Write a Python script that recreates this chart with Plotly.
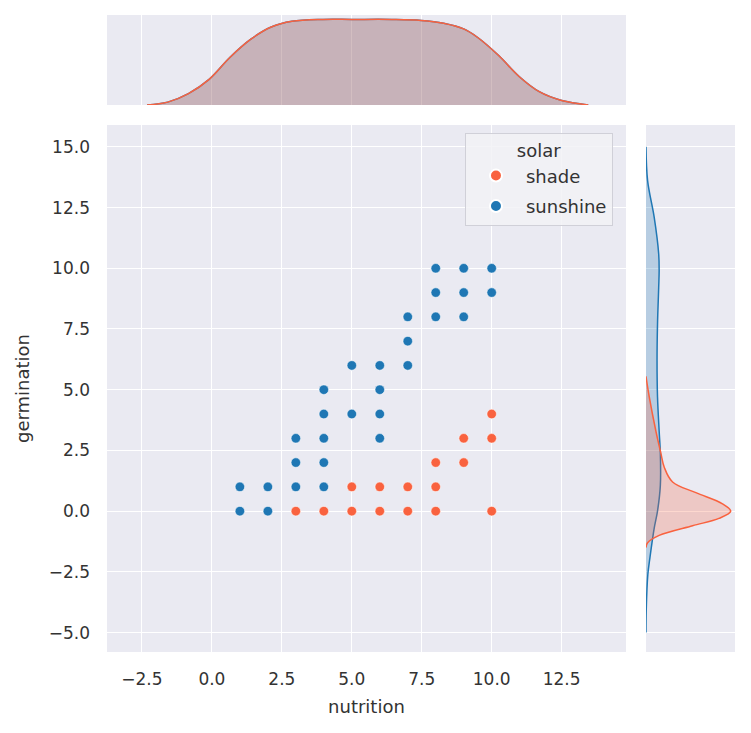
import plotly.graph_objects as go

# scatter data (nutrition, germination) per solar group
shade_x = [3, 4, 5, 6, 7, 8, 10, 5, 6, 7, 8, 8, 9, 9, 10, 10]
shade_y = [0, 0, 0, 0, 0, 0, 0, 1, 1, 1, 1, 2, 2, 3, 3, 4]
sun_x = [1, 2, 1, 2, 3, 4, 3, 4, 3, 4, 6, 4, 5, 6, 4, 6, 5, 6, 7, 7, 7, 8, 9, 8, 9, 10, 8, 9, 10]
sun_y = [0, 0, 1, 1, 1, 1, 2, 2, 3, 3, 3, 4, 4, 4, 5, 5, 6, 6, 6, 7, 8, 8, 8, 9, 9, 9, 10, 10, 10]

# marginal density of nutrition (both groups overlap)
top_x = [-2.32, -1.58, -0.84, -0.1, 0.64, 1.38, 2.12, 2.86, 3.97, 5.0, 6.43,
         7.48, 8.28, 9.0, 9.5, 10.25, 10.98, 11.7, 12.47, 13.2, 13.45]
top_shade = [0, .003, .012, .027, .050, .069, .082, .088, .090, .090, .090,
             .089, .086, .080, .071, .052, .030, .014, .005, .001, 0]
top_sun = top_shade

# marginal density of germination (right panel)
right_sun_y = [15.0, 13.6, 12.1, 10.6, 9.9, 9.2, 7.7, 6.2, 4.7, 3.3, 2.4, 1.05,
               0.0, -0.7, -1.9, -2.6, -4.1, -5.0]
right_sun_d = [0, .007, .035, .054, .056, .054, .049, .047, .049, .056, .061, .061,
               .049, .035, .017, .008, .001, 0]
right_shade_y = [5.55, 4.7, 3.3, 2.4, 1.8, 1.2, 0.76, 0.3, 0.0, -0.3, -0.6, -1.0, -1.3, -1.5]
right_shade_d = [0, .014, .042, .063, .078, .113, .212, .325, .36, .31, .198, .056, .007, 0]

RED = "#f9623f"
BLUE = "#1f77b4"
BG = "#eaeaf2"
FONT = "DejaVu Sans"

# panel domains (paper coords)
MAIN_X = [0.1318, 0.8229]
RIGHT_X = [0.8495, 0.968]
MAIN_Y = [0.1214, 0.8404]
TOP_Y = [0.8677, 0.9905]

fig = go.Figure()

fig.add_trace(go.Scatter(x=shade_x, y=shade_y, mode="markers", name="shade", legendgroup="shade",
                         marker=dict(color=RED, size=9.5, line=dict(color="white", width=0.5)),
                         xaxis="x", yaxis="y"))
fig.add_trace(go.Scatter(x=sun_x, y=sun_y, mode="markers", name="sunshine", legendgroup="sunshine",
                         marker=dict(color=BLUE, size=9.5, line=dict(color="white", width=0.5)),
                         xaxis="x", yaxis="y"))

# top marginal
fig.add_trace(go.Scatter(x=top_x, y=top_sun, mode="lines", line=dict(color=BLUE, width=1.5, shape="spline"),
                         fill="tozeroy", fillcolor="rgba(31,119,180,0.25)", showlegend=False,
                         xaxis="x", yaxis="y2"))
fig.add_trace(go.Scatter(x=top_x, y=top_shade, mode="lines", line=dict(color=RED, width=1.5, shape="spline"),
                         fill="tozeroy", fillcolor="rgba(249,98,63,0.25)", showlegend=False,
                         xaxis="x", yaxis="y2"))

# right marginal
fig.add_trace(go.Scatter(x=right_sun_d, y=right_sun_y, mode="lines", line=dict(color=BLUE, width=1.5, shape="spline"),
                         fill="tozerox", fillcolor="rgba(31,119,180,0.25)", showlegend=False,
                         xaxis="x2", yaxis="y"))
fig.add_trace(go.Scatter(x=right_shade_d, y=right_shade_y, mode="lines", line=dict(color=RED, width=1.5, shape="spline"),
                         fill="tozerox", fillcolor="rgba(249,98,63,0.25)", showlegend=False,
                         xaxis="x2", yaxis="y"))

grid = dict(showgrid=True, gridcolor="white", gridwidth=1.2, zeroline=False, showline=False)
tickfont = dict(family=FONT, size=17, color="#333333")

fig.update_layout(
    width=751, height=733,
    margin=dict(l=0, r=0, t=0, b=0),
    paper_bgcolor="white", plot_bgcolor=BG,
    font=dict(family=FONT, size=17, color="#333333"),
    xaxis=dict(domain=MAIN_X, range=[-3.75, 14.8], tick0=-2.5, dtick=2.5, tickformat=".1f",
               tickfont=tickfont, ticklabelstandoff=15, anchor="y",
               title=dict(text="nutrition", font=dict(family=FONT, size=18, color="#333333"), standoff=12),
               **grid),
    yaxis=dict(domain=MAIN_Y, range=[-5.8, 15.9], tick0=0, dtick=2.5, tickformat=".1f",
               tickfont=tickfont, ticklabelstandoff=16, anchor="x",
               title=dict(text="germination", font=dict(family=FONT, size=18, color="#333333"), standoff=14),
               **grid),
    yaxis2=dict(domain=TOP_Y, range=[0, 0.0947], anchor="x", showticklabels=False,
                showgrid=False, zeroline=False, showline=False),
    xaxis2=dict(domain=RIGHT_X, range=[0, 0.378], anchor="y", showticklabels=False,
                showgrid=False, zeroline=False, showline=False),
    legend=dict(x=0.6085, y=0.8295, xanchor="left", yanchor="top",
                bgcolor="rgba(242,242,246,0.85)", bordercolor="#d0d0d8", borderwidth=1,
                font=dict(family=FONT, size=18, color="#333333"),
                title=dict(text="solar", side="top center", font=dict(family=FONT, size=18, color="#333333")),
                itemsizing="constant", itemwidth=50, tracegroupgap=4),
)

# backgrounds for marginal panels
fig.add_shape(type="rect", xref="paper", yref="paper", x0=MAIN_X[0], x1=MAIN_X[1], y0=TOP_Y[0], y1=TOP_Y[1],
              fillcolor=BG, line_width=0, layer="below")
fig.add_shape(type="rect", xref="paper", yref="paper", x0=RIGHT_X[0], x1=RIGHT_X[1], y0=MAIN_Y[0], y1=MAIN_Y[1],
              fillcolor=BG, line_width=0, layer="below")

fig.write_html("out.html")
